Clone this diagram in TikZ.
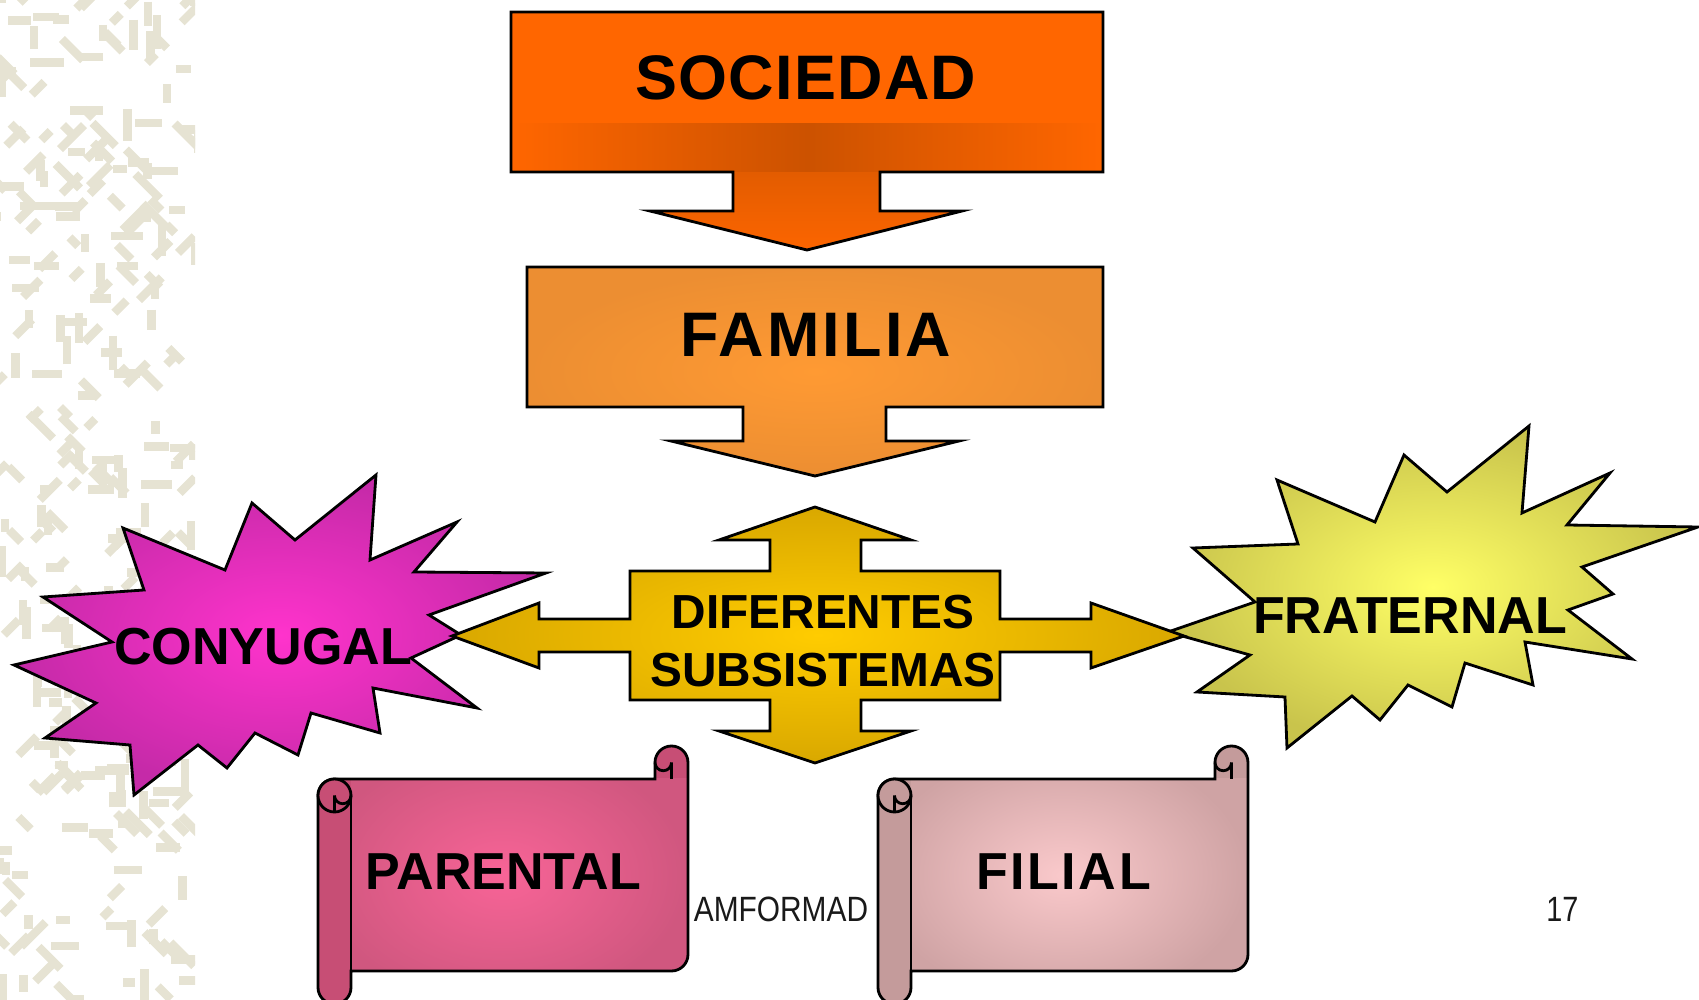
\documentclass[tikz,border=0pt]{standalone}
\usepackage{fontspec}
\setmainfont{Liberation Sans}
\usetikzlibrary{calc}
\definecolor{texturecol}{HTML}{E6E3D3}
\definecolor{sociedadcol}{HTML}{FF6600}
\definecolor{sociedaddark}{HTML}{CC5200}
\definecolor{sociedadstem}{HTML}{E35C00}
\definecolor{familiain}{HTML}{FF9A33}
\definecolor{familiaout}{HTML}{EC8E32}
\definecolor{crossin}{HTML}{FFCC00}
\definecolor{crossout}{HTML}{D9A800}
\definecolor{conyugalin}{HTML}{FF33CC}
\definecolor{conyugalout}{HTML}{C52AA8}
\definecolor{fraternalin}{HTML}{FFFF66}
\definecolor{fraternalout}{HTML}{C9C44C}
\definecolor{parentalin}{HTML}{F86497}
\definecolor{parentalout}{HTML}{D0577F}
\definecolor{parentalroll}{HTML}{C74E75}
\definecolor{filialin}{HTML}{FAC9CB}
\definecolor{filialout}{HTML}{CFA3A4}
\definecolor{filialroll}{HTML}{C49B9B}
\tikzset{
  bigword/.style={font=\fontsize{17.9}{20}\selectfont\bfseries},
  starword/.style={font=\fontsize{14.8}{17}\selectfont\bfseries},
  crossword/.style={font=\fontsize{13.6}{16.5}\selectfont\bfseries, align=center},
  footword/.style={font=\fontsize{10}{12}\selectfont, text=black!90},
}
\begin{document}
\begin{tikzpicture}[thick,scale=0.1]
\tikzstyle{every node}+=[inner sep=0pt]
\useasboundingbox (0,0) rectangle (169.9,-100);
% left texture strip
\begin{scope}
\clip (0,0) rectangle (19.5,-100);
\pgfmathsetseed{11}
\foreach \k in {1,...,300}{
  \pgfmathsetmacro\tx{rnd*20}
  \pgfmathsetmacro\ty{-rnd*100}
  \pgfmathsetmacro\ta{45*int(rnd*8)}
  \pgfmathsetmacro\tl{1.2+rnd*2.3}
  \draw [texturecol, line width=2.4pt] (\tx,\ty) -- ++(\ta:\tl);
}
\end{scope}
% stars
\shadedraw [inner color=conyugalin, outer color=conyugalout] (37.6,-47.5) -- (37.0,-56.0) -- (45.7,-52.2) -- (41.4,-57.2) -- (54.6,-57.3) -- (42.9,-61.5) -- (46.1,-63.5) -- (41.1,-65.8) -- (47.7,-70.8) -- (37.3,-68.8) -- (38.0,-73.3) -- (31.1,-71.3) -- (29.8,-75.5) -- (25.5,-73.3) -- (22.7,-76.8) -- (19.8,-74.5) -- (13.4,-79.5) -- (13.0,-74.5) -- (4.5,-73.8) -- (9.6,-70.3) -- (1.4,-66.5) -- (11.2,-64.2) -- (4.3,-59.7) -- (14.4,-59.0) -- (12.3,-52.8) -- (22.5,-57.0) -- (25.2,-50.3) -- (29.5,-54.0) -- cycle;
\shadedraw [inner color=fraternalin, outer color=fraternalout] (152.9,-42.6) -- (152.2,-51.3) -- (161.0,-47.3) -- (156.7,-52.5) -- (169.8,-52.7) -- (158.2,-56.7) -- (161.3,-59.4) -- (156.8,-61.0) -- (163.2,-65.9) -- (152.5,-64.2) -- (153.3,-68.5) -- (146.5,-66.3) -- (145.2,-70.7) -- (140.8,-68.5) -- (138.0,-72.0) -- (135.2,-69.6) -- (128.7,-74.8) -- (128.5,-69.7) -- (119.7,-69.2) -- (125.0,-65.5) -- (116.8,-63.2) -- (125.5,-60.2) -- (119.3,-54.8) -- (129.8,-54.4) -- (127.7,-48.0) -- (137.5,-52.2) -- (140.4,-45.5) -- (144.7,-49.2) -- cycle;
% four-way arrow
\shadedraw [inner color=crossin, outer color=crossout] (81.5,-50.7) -- (91.1,-54.0) -- (86.1,-54.0) -- (86.1,-57.1) -- (100.0,-57.1) -- (100.0,-61.9) -- (109.1,-61.9) -- (109.1,-60.3) -- (118.4,-63.6) -- (109.1,-66.8) -- (109.1,-65.2) -- (100.0,-65.2) -- (100.0,-70.0) -- (86.1,-70.0) -- (86.1,-73.1) -- (91.1,-73.1) -- (81.5,-76.3) -- (71.9,-73.1) -- (77.0,-73.1) -- (77.0,-70.0) -- (63.0,-70.0) -- (63.0,-65.2) -- (53.9,-65.2) -- (53.9,-66.8) -- (45.2,-63.6) -- (53.9,-60.3) -- (53.9,-61.9) -- (63.0,-61.9) -- (63.0,-57.1) -- (77.0,-57.1) -- (77.0,-54.0) -- (71.9,-54.0) -- cycle;
% callouts
\draw [fill=sociedadcol, path picture={
    \shade [left color=sociedadcol, right color=sociedadcol, middle color=sociedaddark] (51.1,-12.4) rectangle (110.3,-17.25);
    \shade [top color=sociedadstem, bottom color=sociedadcol!90!sociedadstem] (51.1,-17.25) rectangle (110.3,-25.1);}]
  (51.1,-1.2) -- (110.3,-1.2) -- (110.3,-17.2) -- (88.0,-17.2) -- (88.0,-21.1) -- (96.2,-21.1) -- (80.7,-25.0) -- (65.0,-21.1) -- (73.3,-21.1) -- (73.3,-17.2) -- (51.1,-17.2) -- cycle;
\shadedraw [inner color=familiain, outer color=familiaout] (52.7,-26.7) -- (110.3,-26.7) -- (110.3,-40.7) -- (88.6,-40.7) -- (88.6,-44.1) -- (95.9,-44.1) -- (81.5,-47.6) -- (67.1,-44.1) -- (74.3,-44.1) -- (74.3,-40.7) -- (52.7,-40.7) -- cycle;
% scrolls
\foreach \l/\nm/\txt/\cin/\cout/\croll/\lsp in {31.8/parental/PARENTAL/parentalin/parentalout/parentalroll/0, 87.8/filial/FILIAL/filialin/filialout/filialroll/5}{
  \pgfmathsetmacro\r{\l+37}
  \draw [fill=\croll, path picture={\shade [inner color=\cin, outer color=\cout] (\l+3.3,-77.9) rectangle (\r,-97.1);}]
    (\r,-76.25) -- (\r,-95.45) arc[start angle=0,end angle=-90,radius=1.65]
    -- (\l+3.3,-97.1) -- (\l+3.3,-98.75) arc[start angle=0,end angle=-180,radius=1.65]
    -- (\l,-79.55) arc[start angle=180,end angle=90,radius=1.65]
    -- (\r-3.3,-77.9) -- (\r-3.3,-76.25) arc[start angle=180,end angle=0,radius=1.65] -- cycle;
  \draw (\l+3.3,-79.55) -- (\l+3.3,-97.1);
  \draw [fill=\croll] (\l+1.65,-79.55) circle (1.65);
  \draw (\l+3.3,-79.55) arc[start angle=0,end angle=-180,radius=0.825] -- (\l+1.65,-81.2);
  \draw (\r-1.65,-77.9) -- (\r-1.65,-76.25) arc[start angle=0,end angle=-180,radius=0.825];
  \node [starword] (\nm) at (\l+18.55,-87.2) {\addfontfeature{LetterSpace=\lsp}\txt};
}
% texts
\node [bigword] (sociedad) at (80.6,-7.75) {\addfontfeature{LetterSpace=2}SOCIEDAD};
\node [bigword] (familia) at (81.6,-33.45) {\addfontfeature{LetterSpace=5}FAMILIA};
\node [crossword] (subsistemas) at (82.3,-64.1) {DIFERENTES\\SUBSISTEMAS};
\node [starword] (conyugal) at (26.3,-64.7) {CONYUGAL};
\node [starword] (fraternal) at (141.0,-61.6) {FRATERNAL};
\node [footword, xscale=0.85] (amformad) at (78.1,-90.9) {AMFORMAD};
\node [footword, xscale=0.82] (pagina) at (156.25,-90.95) {17};
\end{tikzpicture}
\end{document}
